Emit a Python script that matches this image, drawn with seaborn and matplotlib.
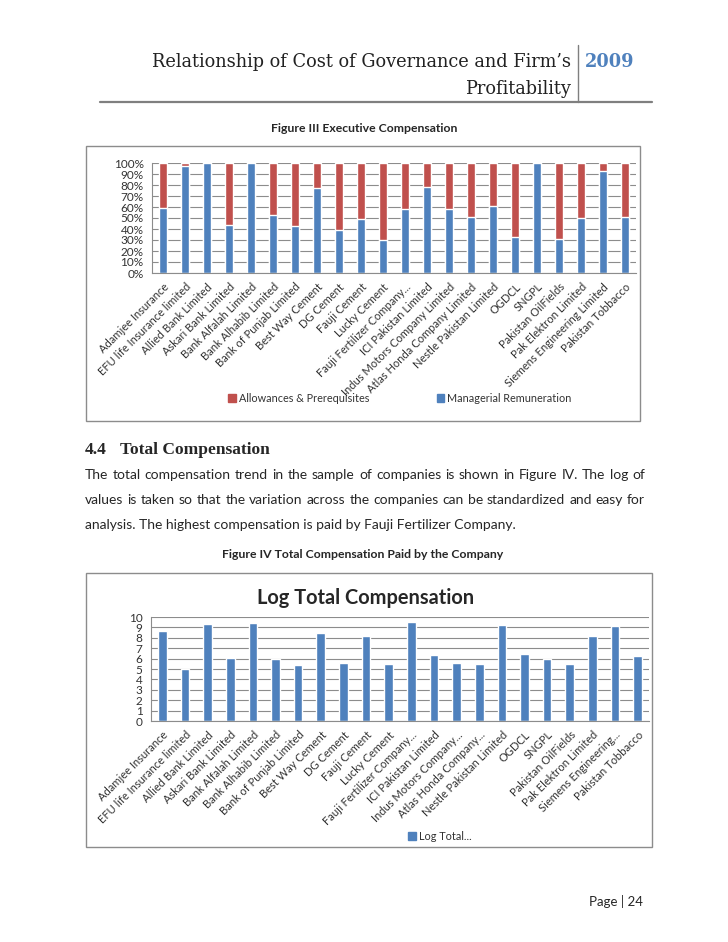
import matplotlib
matplotlib.use('Agg')
import matplotlib.pyplot as plt
from matplotlib.patches import Patch, Rectangle
from matplotlib.lines import Line2D
from matplotlib.ticker import PercentFormatter
import seaborn as sns
import pandas as pd

companies = ['Adamjee Insurance', 'EFU life Insurance limited', 'Allied Bank Limited',
             'Askari Bank Limited', 'Bank Alfalah Limited', 'Bank Alhabib Limited',
             'Bank of Punjab Limited', 'Best Way Cement', 'DG Cement', 'Fauji Cement',
             'Lucky Cement', 'Fauji Fertilizer Company Limited', 'ICI Pakistan Limited',
             'Indus Motors Company Limited', 'Atlas Honda Company Limited',
             'Nestle Pakistan Limited', 'OGDCL', 'SNGPL', 'Pakistan OilFields',
             'Pak Elektron Limited', 'Siemens Engineering Limited', 'Pakistan Tobbacco']

# tick labels as Excel truncated them
labels_fig3 = ['Adamjee Insurance', 'EFU life Insurance limited', 'Allied Bank Limited',
               'Askari Bank Limited', 'Bank Alfalah Limited', 'Bank Alhabib Limited',
               'Bank of Punjab Limited', 'Best Way Cement', 'DG Cement', 'Fauji Cement',
               'Lucky Cement', 'Fauji Fertilizer Company...', 'ICI Pakistan Limited',
               'Indus Motors Company Limited', 'Atlas Honda Company Limited',
               'Nestle Pakistan Limited', 'OGDCL', 'SNGPL', 'Pakistan OilFields',
               'Pak Elektron Limited', 'Siemens Engineering Limited', 'Pakistan Tobbacco']
labels_fig4 = ['Adamjee Insurance', 'EFU life Insurance limited', 'Allied Bank Limited',
               'Askari Bank Limited', 'Bank Alfalah Limited', 'Bank Alhabib Limited',
               'Bank of Punjab Limited', 'Best Way Cement', 'DG Cement', 'Fauji Cement',
               'Lucky Cement', 'Fauji Fertilizer Company...', 'ICI Pakistan Limited',
               'Indus Motors Company...', 'Atlas Honda Company...',
               'Nestle Pakistan Limited', 'OGDCL', 'SNGPL', 'Pakistan OilFields',
               'Pak Elektron Limited', 'Siemens Engineering...', 'Pakistan Tobbacco']

managerial_pct = [59, 97, 100, 44, 100, 53, 43, 77, 39, 49, 30,
                  58, 78, 58, 51, 61, 33, 100, 31, 50, 93, 51]
allowances_pct = [41, 3, 0, 56, 0, 47, 57, 23, 61, 51, 70,
                  42, 22, 42, 49, 39, 67, 0, 69, 50, 7, 49]
log_total = [8.7, 5.0, 9.3, 6.1, 9.4, 6.0, 5.4, 8.5, 5.6, 8.2, 5.5,
             9.5, 6.3, 5.55, 5.5, 9.2, 6.45, 6.0, 5.5, 8.15, 9.1, 6.25]
pct_ticks = list(range(0, 101, 10))
log_ticks = list(range(0, 11))

BLUE = '#4F81BD'
RED = '#C0504D'
GRID = '#8C8C8C'
W, H = 728, 942

sns.set_style('white')
plt.rcParams['font.family'] = ['Lato', 'DejaVu Sans']


def fx(x):
    return x / W


def fy(y):
    return 1 - y / H


def rect(x0, y0, x1, y1):
    return [fx(x0), fy(y1), (x1 - x0) / W, (y1 - y0) / H]


def justify(fig, text, x0, x1, y, **kw):
    words = text.split()
    r = fig.canvas.get_renderer()
    objs = [fig.text(0, fy(y), w, va='center', **kw) for w in words]
    widths = [o.get_window_extent(r).width for o in objs]
    gap = (x1 - x0 - sum(widths)) / (len(words) - 1)
    x = x0
    for o, w in zip(objs, widths):
        o.set_x(fx(x))
        x += w + gap


def style_axes(ax, labels):
    ax.set_xlabel('')
    ax.set_ylabel('')
    ax.set_xlim(-0.5, len(labels) - 0.5)
    ax.yaxis.grid(True, color=GRID, lw=0.8)
    ax.set_axisbelow(True)
    for s in ['top', 'right']:
        ax.spines[s].set_visible(False)
    for s in ['left', 'bottom']:
        ax.spines[s].set_color(GRID)
        ax.spines[s].set_linewidth(0.8)
    ax.set_xticks(range(len(labels)))
    ax.set_xticklabels(labels, rotation=45, ha='right', rotation_mode='anchor',
                       fontsize=8, color='#333333')
    ax.set_xticks([i - 0.5 for i in range(len(labels) + 1)], minor=True)
    ax.tick_params(axis='x', which='major', length=0, pad=6)
    ax.tick_params(axis='x', which='minor', length=4, color=GRID, direction='out')
    ax.tick_params(axis='y', length=4, color=GRID, direction='out', pad=2,
                   labelsize=8.5, labelcolor='#333333')


fig = plt.figure(figsize=(W / 100, H / 100), dpi=100)

# page header
fig.text(fx(571), fy(62), "Relationship of Cost of Governance and Firm\u2019s", ha='right', va='center',
         fontsize=12.8, family='DejaVu Serif', color='#222222')
fig.text(fx(571), fy(89), 'Profitability', ha='right', va='center',
         fontsize=12.8, family='DejaVu Serif', color='#222222')
fig.text(fx(585), fy(62), '2009', ha='left', va='center', fontsize=12.8,
         family='DejaVu Serif', weight='bold', color='#4F81BD')
fig.add_artist(Line2D([fx(100), fx(652)], [fy(102), fy(102)], color='#7F7F7F', lw=1.6))
fig.add_artist(Line2D([fx(578), fx(578)], [fy(45), fy(102)], color='#7F7F7F', lw=1.0))

# Figure III
fig.text(fx(364), fy(129), 'Figure III Executive Compensation', ha='center', va='center',
         fontsize=8.8, weight='bold')
fig.add_artist(Rectangle((fx(86), fy(421)), (640 - 86) / W, (421 - 146) / H,
                         transform=fig.transFigure, fill=False, edgecolor='#8C8C8C', lw=1))

df1 = pd.DataFrame({'company': companies, 'managerial': managerial_pct,
                    'allowances': allowances_pct})
df1['total'] = df1['managerial'] + df1['allowances']

ax1 = fig.add_axes(rect(152, 163, 636, 273))
sns.barplot(data=df1, x='company', y='total', color=RED, width=0.4,
            saturation=1, ax=ax1)
sns.barplot(data=df1, x='company', y='managerial', color=BLUE, width=0.4,
            saturation=1, ax=ax1)
ax1.set_ylim(0, 100)
ax1.set_yticks(pct_ticks)
ax1.yaxis.set_major_formatter(PercentFormatter(decimals=0))
style_axes(ax1, labels_fig3)

fig.legend(handles=[Patch(color=RED, label='Allowances & Prerequisites'),
                    Patch(color=BLUE, label='Managerial Remuneration')],
           loc='center', bbox_to_anchor=(fx(400), fy(398)), ncol=2, frameon=False,
           fontsize=7.8, handlelength=0.7, handleheight=0.7, handletextpad=0.3,
           columnspacing=6.2, labelcolor='#333333')

# section text
fig.text(fx(85), fy(450), '4.4', ha='left', va='center', fontsize=12.5,
         family='Liberation Serif', weight='bold')
fig.text(fx(120), fy(450), 'Total Compensation', ha='left', va='center', fontsize=12.5,
         family='Liberation Serif', weight='bold')
justify(fig, 'The total compensation trend in the sample of companies is shown in Figure IV. The log of',
        85, 645, 475, fontsize=10)
justify(fig, 'values is taken so that the variation across the companies can be standardized and easy for',
        85, 645, 500, fontsize=10)
fig.text(fx(85), fy(525), 'analysis. The highest compensation is paid by Fauji Fertilizer Company.',
         ha='left', va='center', fontsize=10)

# Figure IV
fig.text(fx(363), fy(555), 'Figure IV Total Compensation Paid by the Company', ha='center',
         va='center', fontsize=8.8, weight='bold')
fig.add_artist(Rectangle((fx(86), fy(847)), (652 - 86) / W, (847 - 573) / H,
                         transform=fig.transFigure, fill=False, edgecolor='#8C8C8C', lw=1))
fig.text(fx(366), fy(598), 'Log Total Compensation', ha='center', va='center',
         fontsize=14.4, weight='bold')

df2 = pd.DataFrame({'company': companies, 'log_total': log_total})
ax2 = fig.add_axes(rect(151, 617, 649, 721))
sns.barplot(data=df2, x='company', y='log_total', color=BLUE, width=0.38,
            saturation=1, ax=ax2)
ax2.set_ylim(0, 10)
ax2.set_yticks(log_ticks)
style_axes(ax2, labels_fig4)

fig.legend(handles=[Patch(color=BLUE, label='Log Total...')], loc='center',
           bbox_to_anchor=(fx(440), fy(836)), frameon=False, fontsize=7.8,
           handlelength=0.7, handleheight=0.7, handletextpad=0.3, labelcolor='#333333')

fig.text(fx(643), fy(902), 'Page | 24', ha='right', va='center', fontsize=9.5)

fig.savefig('out.png', dpi=100)
